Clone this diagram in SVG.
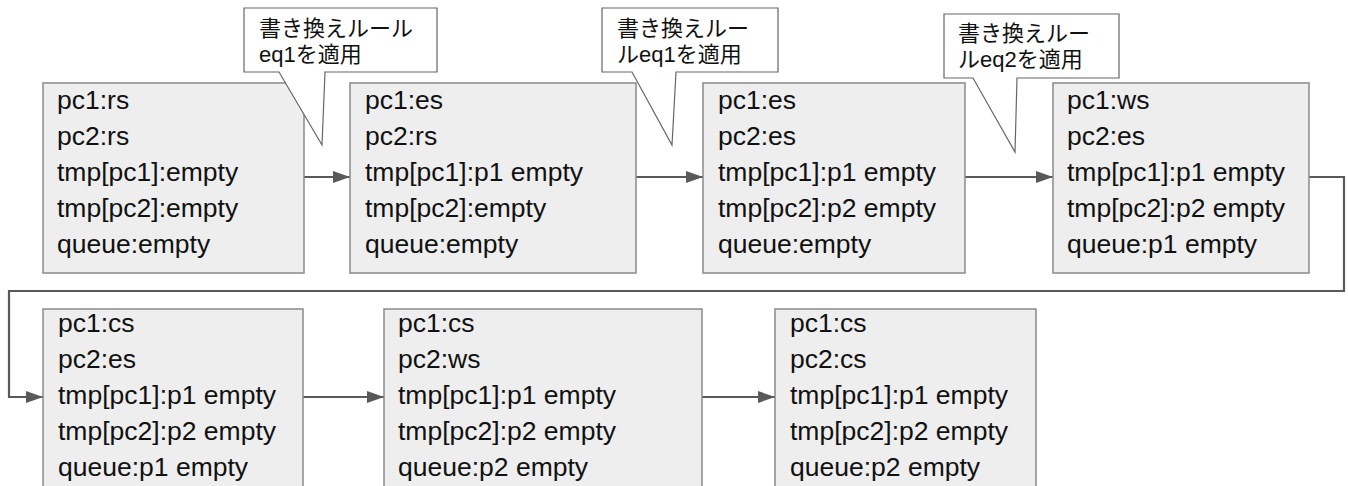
<svg xmlns="http://www.w3.org/2000/svg" width="1348" height="486" viewBox="0 0 1348 486">
<defs>
<style>
.box{fill:#eeeeee;stroke:#8a8a8a;stroke-width:1.5}
.t{font-family:"Liberation Sans",Arial,sans-serif;font-size:26.5px;fill:#111}
.co{fill:#ffffff;stroke:#666666;stroke-width:1.2}
.ct{font-family:"Liberation Sans","Noto Sans CJK JP",sans-serif;font-size:22px;fill:#111}
.cn{fill:none;stroke:#595959;stroke-width:2.2}
</style>
<marker id="ah" markerUnits="userSpaceOnUse" markerWidth="18" markerHeight="14" refX="17" refY="7" orient="auto">
<path d="M0,1 L17,7 L0,13 z" fill="#595959"/>
</marker>
</defs>
<rect width="1348" height="486" fill="#ffffff"/>
<g id="connectors">
<path class="cn" d="M304,177 H350" marker-end="url(#ah)"/>
<path class="cn" d="M636,177 H703" marker-end="url(#ah)"/>
<path class="cn" d="M965,177 H1053" marker-end="url(#ah)"/>
<path class="cn" d="M1309,177 H1344 V291 H9 V397 H43" marker-end="url(#ah)"/>
<path class="cn" d="M303,397 H384" marker-end="url(#ah)"/>
<path class="cn" d="M702,397 H775" marker-end="url(#ah)"/>
</g>
<g id="s1">
<rect class="box" x="43" y="83" width="261" height="190"/>
<text class="t"><tspan x="57" y="109">pc1:rs</tspan><tspan x="57" y="145">pc2:rs</tspan><tspan x="57" y="181">tmp[pc1]:empty</tspan><tspan x="57" y="217">tmp[pc2]:empty</tspan><tspan x="57" y="253">queue:empty</tspan></text>
</g>
<g id="s2">
<rect class="box" x="350" y="83" width="286" height="190"/>
<text class="t"><tspan x="365" y="109">pc1:es</tspan><tspan x="365" y="145">pc2:rs</tspan><tspan x="365" y="181">tmp[pc1]:p1 empty</tspan><tspan x="365" y="217">tmp[pc2]:empty</tspan><tspan x="365" y="253">queue:empty</tspan></text>
</g>
<g id="s3">
<rect class="box" x="703" y="83" width="262" height="190"/>
<text class="t"><tspan x="718" y="109">pc1:es</tspan><tspan x="718" y="145">pc2:es</tspan><tspan x="718" y="181">tmp[pc1]:p1 empty</tspan><tspan x="718" y="217">tmp[pc2]:p2 empty</tspan><tspan x="718" y="253">queue:empty</tspan></text>
</g>
<g id="s4">
<rect class="box" x="1053" y="83" width="256" height="190"/>
<text class="t"><tspan x="1067" y="109">pc1:ws</tspan><tspan x="1067" y="145">pc2:es</tspan><tspan x="1067" y="181">tmp[pc1]:p1 empty</tspan><tspan x="1067" y="217">tmp[pc2]:p2 empty</tspan><tspan x="1067" y="253">queue:p1 empty</tspan></text>
</g>
<g id="s5">
<rect class="box" x="43" y="309" width="260" height="190"/>
<text class="t"><tspan x="58" y="332">pc1:cs</tspan><tspan x="58" y="368">pc2:es</tspan><tspan x="58" y="404">tmp[pc1]:p1 empty</tspan><tspan x="58" y="440">tmp[pc2]:p2 empty</tspan><tspan x="58" y="476">queue:p1 empty</tspan></text>
</g>
<g id="s6">
<rect class="box" x="384" y="309" width="318" height="190"/>
<text class="t"><tspan x="398" y="332">pc1:cs</tspan><tspan x="398" y="368">pc2:ws</tspan><tspan x="398" y="404">tmp[pc1]:p1 empty</tspan><tspan x="398" y="440">tmp[pc2]:p2 empty</tspan><tspan x="398" y="476">queue:p2 empty</tspan></text>
</g>
<g id="s7">
<rect class="box" x="775" y="309" width="261" height="190"/>
<text class="t"><tspan x="790" y="332">pc1:cs</tspan><tspan x="790" y="368">pc2:cs</tspan><tspan x="790" y="404">tmp[pc1]:p1 empty</tspan><tspan x="790" y="440">tmp[pc2]:p2 empty</tspan><tspan x="790" y="476">queue:p2 empty</tspan></text>
</g>
<g id="c1">
<path class="co" d="M244,8 H437 V72 H325 L322,145 L279,72 H244 Z"/>
<text class="ct"><tspan x="259" y="36">書き換えルール</tspan><tspan x="259" y="62">eq1を適用</tspan></text>
</g>
<g id="c2">
<path class="co" d="M602,8 H778 V72 H676 L672,145 L632,72 H602 Z"/>
<text class="ct"><tspan x="617" y="36">書き換えルー</tspan><tspan x="617" y="62">ルeq1を適用</tspan></text>
</g>
<g id="c3">
<path class="co" d="M944,14 H1119 V78 H1017 L1015,152 L973,78 H944 Z"/>
<text class="ct"><tspan x="958" y="41">書き換えルー</tspan><tspan x="958" y="67">ルeq2を適用</tspan></text>
</g>
</svg>
